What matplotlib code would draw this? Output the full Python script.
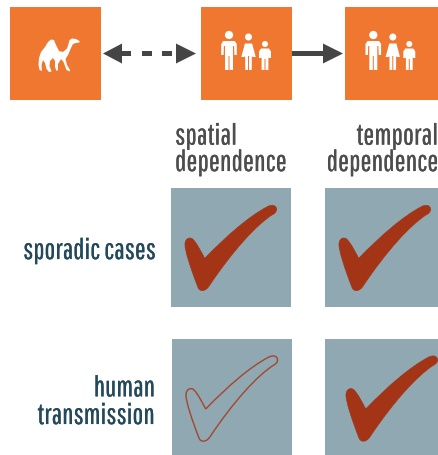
import matplotlib
matplotlib.use("Agg")
import matplotlib.pyplot as plt
import matplotlib.patheffects as pe
from matplotlib import font_manager as fm
from matplotlib.patches import Circle, PathPatch, Polygon, Rectangle
from matplotlib.path import Path
from matplotlib.transforms import Affine2D

columns = ["spatial\ndependence", "temporal\ndependence"]
rows = ["sporadic cases", "human\ntransmission"]
# 1 = filled check, 0 = outline only
checks = [[1, 1],
          [0, 1]]

orange = "#F0772F"
slate = "#8FA8B2"
rust = "#A33416"
grey_text = "#4D4D4D"
blue_text = "#24495B"
arrow_col = "#454545"

have = set(f.name for f in fm.fontManager.ttflist)
font = [f for f in ["Pathway Gothic One", "Archivo Narrow", "PT Sans Narrow", "Roboto"] if f in have] + ["DejaVu Sans"]

fig = plt.figure(figsize=(4.38, 4.56), dpi=100)
ax = fig.add_axes([0, 0, 1, 1])
ax.set_xlim(0, 438)
ax.set_ylim(456, 0)
ax.set_axis_off()


def check_path():
    verts = [(33.7, 70),
             (56, 47), (78, 28), (96, 18.5),
             (101, 15.5), (105.5, 17), (105.5, 21),
             (105.5, 24), (103, 25.5), (101, 26.5),
             (85, 37), (62, 62), (38.5, 97),
             (35, 103), (29, 104), (27, 99),
             (20, 81), (14, 63), (14, 56),
             (14, 50), (19, 48), (22, 51),
             (26, 55), (30, 63), (33.7, 70)]
    codes = [Path.MOVETO] + [Path.CURVE4] * 24
    return Path(verts, codes)


def draw_check(x, y, filled):
    tr = Affine2D().translate(x, y) + ax.transData
    if filled:
        ax.add_patch(PathPatch(check_path(), fc=rust, ec=rust, lw=0.5, transform=tr, zorder=3))
    else:
        ax.add_patch(PathPatch(check_path(), fc="none", ec="#A5452E", lw=1.0, transform=tr, zorder=3))


def person(cx, head_y, head_r, half_w, top, waist, bottom, leg_w, dress=False):
    ax.add_patch(Circle((cx, head_y), head_r, fc="white", ec="none", zorder=3))
    if dress:
        body = [(cx - half_w * 0.5, top), (cx + half_w * 0.5, top), (cx + half_w, waist),
                (cx + half_w * 0.55, waist), (cx + leg_w, bottom - 14), (cx + leg_w, bottom),
                (cx + 0.5, bottom), (cx + 0.5, bottom - 14), (cx - 0.5, bottom - 14), (cx - 0.5, bottom),
                (cx - leg_w, bottom), (cx - leg_w, bottom - 14), (cx - half_w * 0.55, waist),
                (cx - half_w, waist)]
    else:
        body = [(cx - half_w + 2, top), (cx + half_w - 2, top), (cx + half_w, top + 3),
                (cx + half_w, waist), (cx + half_w - 2.4, waist), (cx + half_w - 2.7, top + 5),
                (cx + leg_w, top + 5), (cx + leg_w, bottom), (cx + 0.5, bottom),
                (cx + 0.5, waist + 1), (cx - 0.5, waist + 1), (cx - 0.5, bottom),
                (cx - leg_w, bottom), (cx - leg_w, top + 5), (cx - half_w + 2.7, top + 5),
                (cx - half_w + 2.4, waist), (cx - half_w, waist), (cx - half_w, top + 3)]
    ax.add_patch(Polygon(body, closed=True, fc="white", ec="none", zorder=3))


def family(dx):
    person(229 + dx, 36, 4.1, 7.8, 42, 56, 71, 4.0)
    person(248.5 + dx, 38, 3.5, 7.2, 44.5, 58, 71, 3.3, dress=True)
    person(265 + dx, 45, 3, 6, 49.5, 59, 71, 3.4)


def camel():
    pts = [(79.5, 42), (76, 40), (72, 39.5), (69.5, 41), (68.5, 45), (67, 49.5), (63, 53),
           (59, 52), (56, 46), (54, 41), (51, 40.5), (48, 43), (45, 48), (41, 53), (39, 59),
           (38.5, 66), (39.5, 71), (42, 72), (41.5, 66), (43, 61), (45, 64), (46.5, 70), (49, 73),
           (51.5, 72.5), (49.5, 67), (50, 62), (53, 59), (55, 62), (55, 68), (56.5, 72),
           (58, 71), (58, 65), (61, 60), (63.5, 63), (66.5, 71), (70, 72.5), (70, 71), (67, 66),
           (65.5, 60), (68, 56), (71, 49), (73, 45), (76, 44), (79.5, 43.5)]
    ax.add_patch(Polygon(pts, closed=True, fc="white", ec="none", zorder=3))


def arrow_head(tip, base, y=54.5, half=10):
    ax.add_patch(Polygon([(tip, y), (base, y - half), (base, y + half)], closed=True,
                         fc=arrow_col, ec="none", zorder=2))


# top row of orange boxes
for x0, x1 in [(10, 101.3), (200.7, 292.3), (345, 438)]:
    ax.add_patch(Rectangle((x0, 7.8), x1 - x0, 93.2, fc=orange, ec="none"))
camel()
family(0)
family(144.3)

# dashed double arrow
arrow_head(103, 122)
arrow_head(196, 176)
for x0, x1 in [(121, 131), (141.5, 151.5), (162, 172)]:
    ax.add_patch(Rectangle((x0, 51.7), x1 - x0, 5.6, fc=arrow_col, ec="none"))

# solid arrow
ax.add_patch(Rectangle((292.3, 51.7), 32, 5.6, fc=arrow_col, ec="none"))
arrow_head(343, 323)

# column headers
heavy = [pe.withStroke(linewidth=0.12, foreground=grey_text)]
ax.text(175, 172, columns[0], ha="left", va="baseline", fontsize=21, color=grey_text,
        family=font, linespacing=1.02, multialignment="left", path_effects=heavy)
ax.text(438, 172, columns[1], ha="right", va="baseline", fontsize=21, color=grey_text,
        family=font, linespacing=1.02, multialignment="right", path_effects=heavy)

# row labels
heavy2 = [pe.withStroke(linewidth=0.12, foreground=blue_text)]
ax.text(156, 260, rows[0], ha="right", va="baseline", fontsize=20.6, color=blue_text,
        family=font, path_effects=heavy2)
ax.text(155, 425, rows[1], ha="right", va="baseline", fontsize=20.6, color=blue_text,
        family=font, linespacing=1.08, multialignment="right", path_effects=heavy2)

# check grid
box_x = [[171, 325], [172, 325]]
box_y = [189.4, 340]
for i, row in enumerate(checks):
    for j, val in enumerate(row):
        x = box_x[i][j]
        y = box_y[i]
        ax.add_patch(Rectangle((x, y), 120, 119, fc=slate, ec="none", zorder=1))
        shift = 7 if (i == 1 and j == 1) else 0
        draw_check(x + shift, y, val == 1)

fig.savefig("out.png", dpi=100)
